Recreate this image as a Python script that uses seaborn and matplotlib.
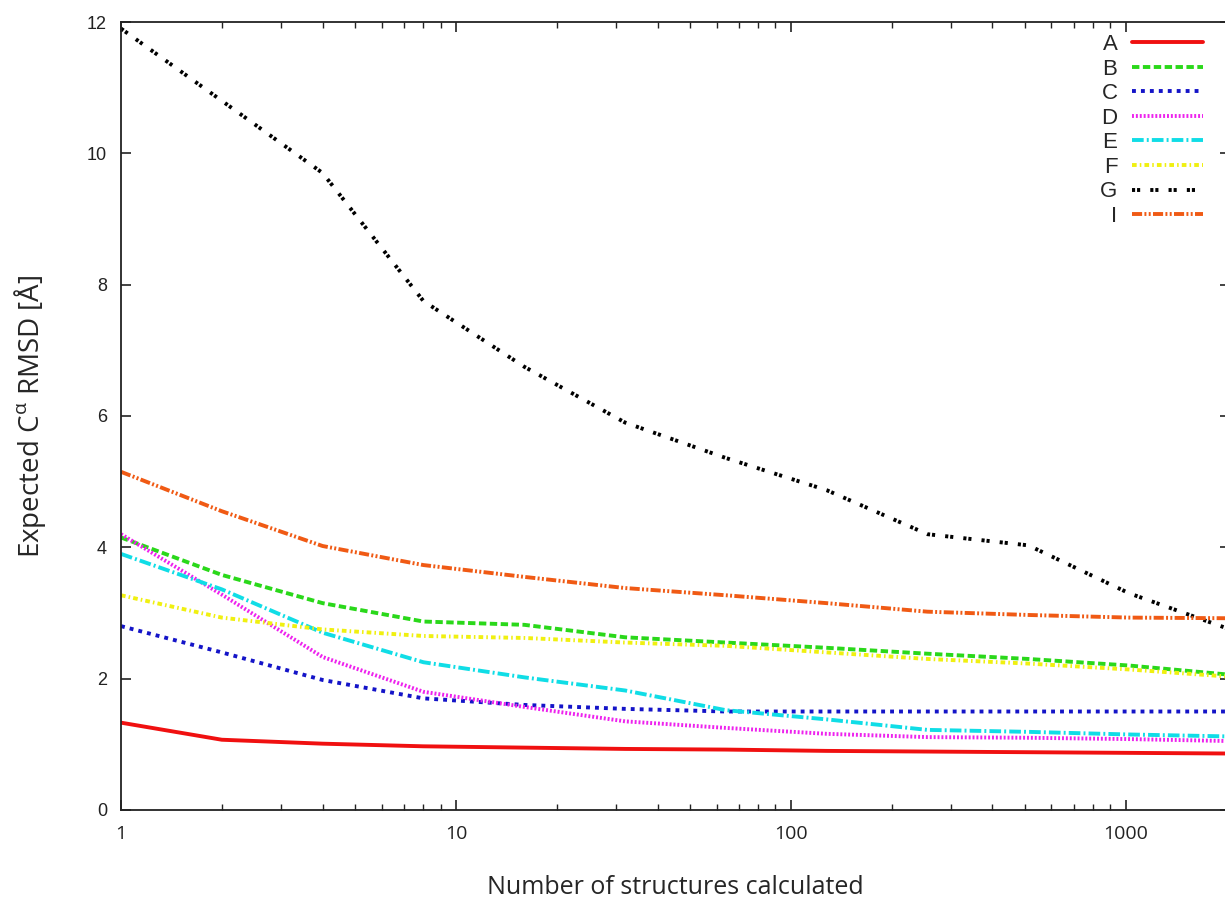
import numpy as np
import pandas as pd
import seaborn as sns
import matplotlib.pyplot as plt
from matplotlib.ticker import FixedLocator, FixedFormatter, LogLocator, NullFormatter

sns.set_style("ticks")
plt.rcParams['font.family'] = ['Liberation Sans', 'DejaVu Sans']

# number of structures (powers of two)
n_structures = [1, 2, 4, 8, 16, 32, 64, 128, 256, 512, 1024, 2048]

rmsd_A = [1.33, 1.07, 1.01, 0.97, 0.95, 0.93, 0.92, 0.90, 0.89, 0.88, 0.87, 0.86]
rmsd_B = [4.15, 3.58, 3.15, 2.87, 2.82, 2.63, 2.55, 2.47, 2.38, 2.30, 2.20, 2.06]
rmsd_C = [2.80, 2.40, 1.98, 1.70, 1.60, 1.54, 1.50, 1.50, 1.50, 1.50, 1.50, 1.50]
rmsd_D = [4.20, 3.28, 2.33, 1.80, 1.57, 1.35, 1.25, 1.16, 1.11, 1.10, 1.08, 1.05]
rmsd_E = [3.90, 3.36, 2.70, 2.25, 2.02, 1.82, 1.52, 1.38, 1.22, 1.19, 1.15, 1.12]
rmsd_F = [3.27, 2.93, 2.75, 2.65, 2.62, 2.55, 2.50, 2.40, 2.30, 2.23, 2.14, 2.03]
rmsd_G = [11.9, 10.8, 9.7, 7.75, 6.75, 5.9, 5.36, 4.87, 4.2, 4.03, 3.3, 2.75]
rmsd_I = [5.15, 4.55, 4.02, 3.73, 3.55, 3.38, 3.27, 3.15, 3.02, 2.97, 2.93, 2.92]

labels = ['A', 'B', 'C', 'D', 'E', 'F', 'G', 'I']
series = [rmsd_A, rmsd_B, rmsd_C, rmsd_D, rmsd_E, rmsd_F, rmsd_G, rmsd_I]
colors = ['#f01010', '#2ad81a', '#1414c8', '#ee22ee', '#10dde6', '#f0f010', '#000000', '#f05a14']
styles = ['-',
          (0, (1.9, 0.9)),
          (0, (1.0, 1.3)),
          (0, (0.5, 0.5)),
          (0, (3.0, 0.8, 0.5, 0.8)),
          (0, (1.2, 0.8, 0.4, 0.8)),
          (0, (0.8, 0.5, 0.8, 2.6)),
          (0, (2.6, 0.6, 0.5, 0.6, 0.5, 0.6))]

fig = plt.figure(figsize=(12.25, 9.07), dpi=100)
ax = fig.add_axes([121 / 1225, 1 - 810 / 907, 1109 / 1225, 788 / 907])

for lab, vals, col, ls in zip(labels, series, colors, styles):
    df = pd.DataFrame({'n': n_structures, 'rmsd': vals})
    sns.lineplot(data=df, x='n', y='rmsd', ax=ax, color=col, linestyle=ls,
                 linewidth=2.8, label=lab, dash_capstyle='butt')

ax.set_xscale('log')
ax.set_xlim(1, 2048)
ax.set_ylim(0, 12)

ax.xaxis.set_major_locator(FixedLocator([1, 10, 100, 1000]))
ax.xaxis.set_major_formatter(FixedFormatter(['1', '10', '100', '1000']))
ax.xaxis.set_minor_locator(LogLocator(base=10, subs=np.arange(2, 10)))
ax.xaxis.set_minor_formatter(NullFormatter())
ax.set_yticks([0, 2, 4, 6, 8, 10, 12])

ax.tick_params(which='both', direction='in', top=True, right=True, color='#222222')
ax.tick_params(which='major', length=7, width=1.2)
ax.tick_params(which='minor', length=4, width=1.0)
ax.tick_params(axis='y', labelsize=13, pad=10, labelcolor='#222222')
ax.tick_params(axis='x', labelsize=14, pad=11, labelcolor='#222222')
for lbl in ax.get_xticklabels():
    lbl.set_family('Open Sans')

for sp in ax.spines.values():
    sp.set_linewidth(1.3)
    sp.set_color('#222222')

ax.set_xlabel('Number of structures calculated', family='Open Sans', fontsize=18, va='top')
ax.set_ylabel('Expected C$^{\\mathregular{α}}$ RMSD [Å]', family='Open Sans', fontsize=20)
ax.xaxis.set_label_coords(0.5, -0.082)
ax.yaxis.set_label_coords(-0.066, 0.5)

leg = ax.legend(loc='upper right', bbox_to_anchor=(1203 / 1225, 1 - 34 / 907),
                bbox_transform=fig.transFigure, frameon=False, markerfirst=False,
                fontsize=16, handlelength=3.2, handletextpad=0.65, labelspacing=0.16,
                borderpad=0, borderaxespad=0)

fig.savefig('out.png', dpi=100)
